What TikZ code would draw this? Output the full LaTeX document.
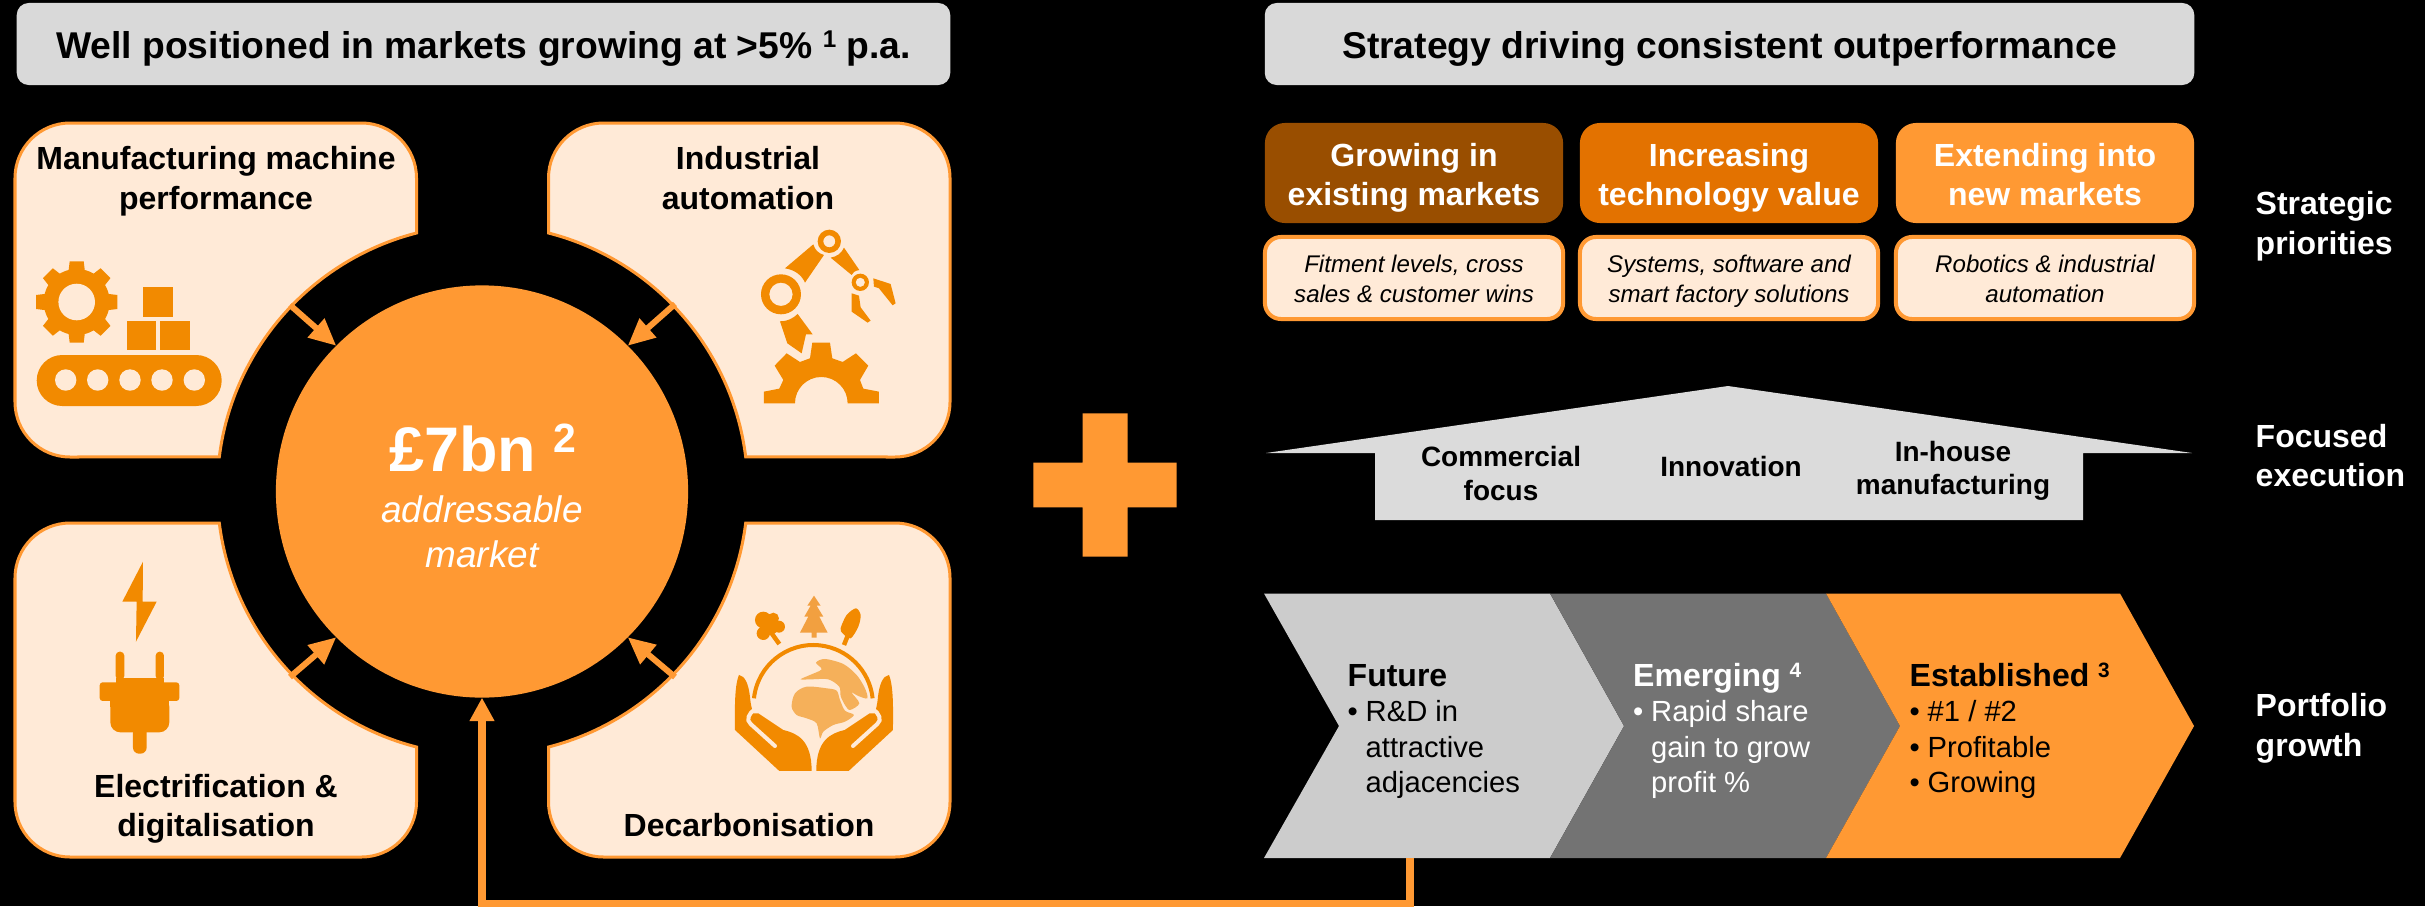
\documentclass[tikz,border=0pt]{standalone}
\usepackage{fontspec}
\setmainfont{Liberation Sans}
\usepackage{graphicx}
\usepackage{tikz}
\usetikzlibrary{arrows.meta}

\definecolor{amber}{HTML}{FF9933}
\definecolor{amberdark}{HTML}{E37200}
\definecolor{rust}{HTML}{994E00}
\definecolor{cream}{HTML}{FFEAD7}
\definecolor{iconamber}{HTML}{F28A00}
\definecolor{landamber}{HTML}{F5B05A}
\definecolor{pineamber}{HTML}{F2A040}
\definecolor{headergrey}{HTML}{D9D9D9}
\definecolor{housegrey}{HTML}{DBDBDB}
\definecolor{futuregrey}{HTML}{CCCCCC}
\definecolor{emerginggrey}{HTML}{737373}

\newcommand{\bulletrow}[1]{\makebox[0.18cm][l]{•}#1}
\newcommand{\plainrow}[1]{\hspace*{0.18cm}#1}
\newcommand{\chevronfont}{\fontsize{9.1}{10}\selectfont\bfseries}
\newcommand{\supmark}[1]{\raisebox{0.3em}{\scalebox{0.65}{#1}}}

\tikzset{
  linebox/.style 2 args={execute at begin node=\rule{0pt}{#1},execute at end node=\rule[-#2]{0pt}{#2}},
  boldlabel/.style={font=\fontsize{9.1}{11.1}\selectfont\bfseries,align=center,inner sep=0,linebox={0.66cm}{0.12cm}},
  headerbox/.style={fill=headergrey,rounded corners=0.12cm,minimum height=0.82cm,inner sep=0,
    font=\fontsize{10.6}{12}\selectfont\bfseries,linebox={0.38cm}{0.094cm}},
  prioritybox/.style={boldlabel,text=white,rounded corners=0.2cm,minimum width=2.98cm,minimum height=1cm,
    linebox={0.766cm}{0.12cm}},
  detailbox/.style={draw=amber,fill=cream,line width=0.04cm,rounded corners=0.16cm,minimum width=2.98cm,
    minimum height=0.82cm,align=center,inner sep=0,font=\fontsize{6.85}{8.5}\selectfont\itshape,
    linebox={0.564cm}{0.08cm}},
  houselabel/.style={font=\fontsize{7.95}{9.4}\selectfont\bfseries,align=center,inner sep=0},
  sidelabel/.style={boldlabel,text=white,align=left,anchor=west},
  chevronlabel/.style={font=\fontsize{8.3}{10}\selectfont,align=left,inner sep=0,anchor=south west,
    execute at end node=\rule[-0.1cm]{0pt}{0.1cm}},
  panelbox/.style={draw=amber,fill=cream,line width=0.03cm},
  iconfill/.style={fill=iconamber},
  feed/.style={draw=amber,line width=0.06cm,-{Triangle[length=0.27cm,width=0.24cm]}},
  trunk/.style={draw=iconamber,line width=0.045cm}
}

\begin{document}
\begin{tikzpicture}[x=0.01cm,y=-0.01cm]
  \useasboundingbox (0,0) rectangle (2425,906);
  \fill[black] (0,0) rectangle (2425,906);

  \node[headerbox,minimum width=9.33cm] (lefthead) at (483.5,44) {Well positioned in markets growing at >5\% \supmark{1} p.a.};
  \node[headerbox,minimum width=9.29cm] (righthead) at (1729.5,44) {Strategy driving consistent outperformance};

  \foreach \sx/\sy in {1/1,-1/1,1/-1,-1/-1}
    \draw[panelbox,shift={(482.5,490)},xscale=\sx,yscale=\sy]
      (-412.5,-367) -- (-121,-367) arc[start angle=270,end angle=360,radius=55]
      -- (-66,-257) arc[start angle=255.6,end angle=187.15,radius=265.2]
      -- (-412.5,-33) arc[start angle=90,end angle=180,radius=55]
      -- (-467.5,-312) arc[start angle=180,end angle=270,radius=55] -- cycle;

  \node[boldlabel] (mfglabel) at (216,182) {Manufacturing machine\\performance};
  \node[boldlabel] (autolabel) at (748,182) {Industrial\\automation};
  \node[boldlabel] (eleclabel) at (216,809.5) {Electrification \&\\digitalisation};
  \node[boldlabel] (decarblabel) at (749,809.5) {Decarbonisation};

  \node[circle,fill=amber,minimum size=4.12cm,inner sep=0,outer sep=0] (market) at (482,491.5) {};
  \node[inner sep=0,anchor=base,text=white,font=\fontsize{17.9}{20}\selectfont\bfseries] (marketvalue) at (483,471.7) {£7bn \supmark{2}};
  \node[inner sep=0,text=white,align=center,font=\fontsize{10.5}{12.8}\selectfont\itshape] (marketnote) at (482,532) {addressable\\market};

  \coordinate (mfgout) at (290,305);
  \coordinate (autoout) at (675,304);
  \coordinate (elecout) at (290,677);
  \coordinate (decarbout) at (675,677);
  \draw[feed] (mfgout) -- (market.135);
  \draw[feed] (autoout) -- (market.45);
  \draw[feed] (elecout) -- (market.225);
  \draw[feed] (decarbout) -- (market.315);

  % conveyor
  \fill[iconfill,shift={(76.7,302)}] (0,0) circle (33);
  \foreach \a in {0,45,...,315}
    \fill[iconfill,shift={(76.7,302)},rotate=\a] (24,-9) -- (40.7,-7) -- (40.7,7) -- (24,9) -- cycle;
  \fill[cream] (76.7,302) circle (18.3);
  \fill[iconfill] (143.3,287.3) rectangle (172.7,316.7);
  \fill[iconfill] (127,320.7) rectangle (156,350);
  \fill[iconfill] (160.3,320.7) rectangle (189.7,350);
  \fill[iconfill,rounded corners=0.255cm] (36.7,355) rectangle (221.7,406);
  \foreach \cx in {65.7,97.7,130,162,194.3}
    \fill[cream] (\cx,380) circle (10.7);

  % robot arm
  \begin{scope}[shift={(500,100)},scale=0.3333]
    \fill[iconfill,even odd rule] (843,583) circle (60) (843,583) circle (35);
    \fill[iconfill,even odd rule] (988,424) circle (35) (988,424) circle (18);
    \fill[iconfill,even odd rule] (1081,547) circle (26) (1081,547) circle (14);
    \fill[iconfill] (855,505) -- (940,433) .. controls (945,450) and (955,460) .. (972,465) -- (915,548) .. controls (905,525) and (885,510) .. cycle;
    \fill[iconfill] (1032,443) -- (1078,510) .. controls (1065,512) and (1057,518) .. (1055,525) -- (992,473) .. controls (1010,470) and (1025,460) .. cycle;
    \fill[iconfill] (840,664) .. controls (860,665) and (880,655) .. (893,642) -- (938,703) -- (918,703) -- (905,760) -- (862,730) -- cycle;
    \fill[iconfill] (1120,535) -- (1172,552) -- (1187,610) -- (1178,616) -- (1137,565) -- (1122,560) -- cycle;
    \fill[iconfill] (1055,580) -- (1077,587) -- (1082,622) -- (1112,662) -- (1103,668) -- (1055,635) -- cycle;
    \fill[iconfill] (792,910) -- (792,875) -- (838,866) -- (850,840) -- (824,797) -- (860,760) -- (900,786) -- (930,775) -- (937,728)
      -- (990,728) -- (997,775) -- (1028,786) -- (1068,760) -- (1105,797) -- (1080,840) -- (1090,866) -- (1137,875) -- (1137,910)
      -- (1043,910) arc[start angle=0,end angle=-180,radius=79] -- cycle;
  \end{scope}

  % plug
  \begin{scope}[shift={(0,500)},scale=0.3333]
    \fill[iconfill] (429,185) -- (367,305) -- (410,305) -- (408,425) -- (470,305) -- (428,305) -- cycle;
    \fill[iconfill,rounded corners=0.04cm] (347,540) -- (347,455) -- (373,455) -- (373,540) -- cycle;
    \fill[iconfill,rounded corners=0.04cm] (467,540) -- (467,455) -- (492,455) -- (492,540) -- cycle;
    \fill[iconfill] (347,535) rectangle (492,560);
    \fill[iconfill,rounded corners=0.03cm] (299,547) rectangle (538,603);
    \fill[iconfill,rounded corners=0.1cm] (331,590) -- (508,590) -- (508,697) -- (331,697) -- cycle;
    \fill[iconfill] (331,585) rectangle (508,620);
    \fill[iconfill,rounded corners=0.06cm] (399,680) -- (440,680) -- (440,761) -- (399,761) -- cycle;
  \end{scope}

  % globe in hands
  \begin{scope}[shift={(500,500)},scale=0.3333]
    \draw[iconamber,line width=0.04cm] (762,595) arc[start angle=186.1,end angle=353.9,radius=179];
    \foreach \sx in {1,-1} {
      \begin{scope}[shift={(942,0)},xscale=\sx]
        \fill[iconfill] (-225,525) .. controls (-207,528) and (-197,550) .. (-192,590) .. controls (-190,615) and (-186,628) .. (-182,640)
          -- (-167,640) -- (-92,690) .. controls (-50,700) and (-7,720) .. (-7,813) -- (-104,813) -- (-237,690)
          .. controls (-237,640) and (-240,560) .. cycle;
        \draw[cream,line width=0.04cm,line cap=round] (-178,628) .. controls (-195,640) and (-205,660) .. (-190,672) -- (-117,738);
      \end{scope}
    }
    \fill[landamber] plot[smooth cycle] coordinates {(875,620) (885,580) (920,560) (980,565) (1010,572) (1020,600) (1035,632) (1062,645) (1035,665) (1000,675) (970,695) (960,715) (950,670) (920,655) (890,645)};
    \fill[landamber] plot[smooth cycle] coordinates {(902,538) (930,525) (965,508) (948,488) (975,477) (1030,492) (1070,525) (1095,565) (1102,595) (1075,588) (1055,578) (1078,610) (1050,630) (1035,615) (1022,588) (1018,560) (985,538) (935,538)};
    \fill[iconfill] (790,360) circle (25) (820,355) circle (17) (837,380) circle (18) (790,400) circle (20) (810,380) circle (25);
    \draw[trunk] (815,400) -- (838,432);
    \fill[pineamber] (942,287) -- (962,317) -- (950,317) -- (970,350) -- (958,350) -- (983,398) -- (950,398) -- (950,413) -- (935,413)
      -- (935,398) -- (900,398) -- (925,350) -- (913,350) -- (932,317) -- (922,317) -- cycle;
    \fill[iconfill] plot[smooth cycle] coordinates {(1068,325) (1082,345) (1075,380) (1052,415) (1028,400) (1022,385) (1040,345)};
    \draw[trunk] (1042,410) -- (1032,435);
  \end{scope}

  \fill[amber] (1082.5,413.3) -- (1127.5,413.3) -- (1127.5,462.7) -- (1176.7,462.7) -- (1176.7,507.3) -- (1127.5,507.3)
    -- (1127.5,556.7) -- (1082.5,556.7) -- (1082.5,507.3) -- (1033.3,507.3) -- (1033.3,462.7) -- (1082.5,462.7) -- cycle;

  \node[prioritybox,fill=rust] (growbox) at (1414,173) {Growing in\\existing markets};
  \node[prioritybox,fill=amberdark] (techbox) at (1729,173) {Increasing\\technology value};
  \node[prioritybox,fill=amber] (extendbox) at (2045,173) {Extending into\\new markets};
  \node[detailbox] (growdetail) at (1414,278) {Fitment levels, cross\\sales \& customer wins};
  \node[detailbox] (techdetail) at (1729,278) {Systems, software and\\smart factory solutions};
  \node[detailbox] (extenddetail) at (2045,278) {Robotics \& industrial\\automation};

  \fill[housegrey] (1266,453) -- (1728,386) -- (2192,453) -- (2083,453) -- (2083,520) -- (1375,520) -- (1375,453) -- cycle;
  \node[houselabel] (commercial) at (1501,473.5) {Commercial\\focus};
  \node[houselabel] (innovation) at (1731,466) {Innovation};
  \node[houselabel] (inhouse) at (1953,471) {In-house\\manufacturing};

  \fill[futuregrey] (1264,593.5) -- (1550,593.5) -- (1624,726) -- (1550,858) -- (1264,858) -- (1339,726) -- cycle;
  \fill[emerginggrey] (1550,593.5) -- (1826,593.5) -- (1900,726) -- (1826,858) -- (1550,858) -- (1624,726) -- cycle;
  \fill[amber] (1826,593.5) -- (2120,593.5) -- (2194,726) -- (2120,858) -- (1826,858) -- (1900,726) -- cycle;

  \node[chevronlabel] (future) at (1347,803) {{\chevronfont Future}\\\bulletrow{R\&D in}\\\plainrow{attractive}\\\plainrow{adjacencies}};
  \node[chevronlabel,text=white] (emerging) at (1632.5,803) {{\chevronfont Emerging \supmark{4}}\\\bulletrow{Rapid share}\\\plainrow{gain to grow}\\\plainrow{profit \%}};
  \node[chevronlabel] (established) at (1909,803) {{\chevronfont Established \supmark{3}}\\\bulletrow{\#1 / \#2}\\\bulletrow{Profitable}\\\bulletrow{Growing}};

  \node[sidelabel] (prioritieslabel) at (2255,227) {Strategic\\priorities};
  \node[sidelabel] (executionlabel) at (2255,459.7) {Focused\\execution};
  \node[sidelabel] (growthlabel) at (2255,729) {Portfolio\\growth};

  \coordinate (futurefoot) at (1410,858);
  \coordinate (railturn) at (1410,904);
  \draw[feed,line width=0.075cm,-{Triangle[length=0.235cm,width=0.235cm]}] (futurefoot) -- (railturn) -| (market.south);
\end{tikzpicture}
\end{document}
